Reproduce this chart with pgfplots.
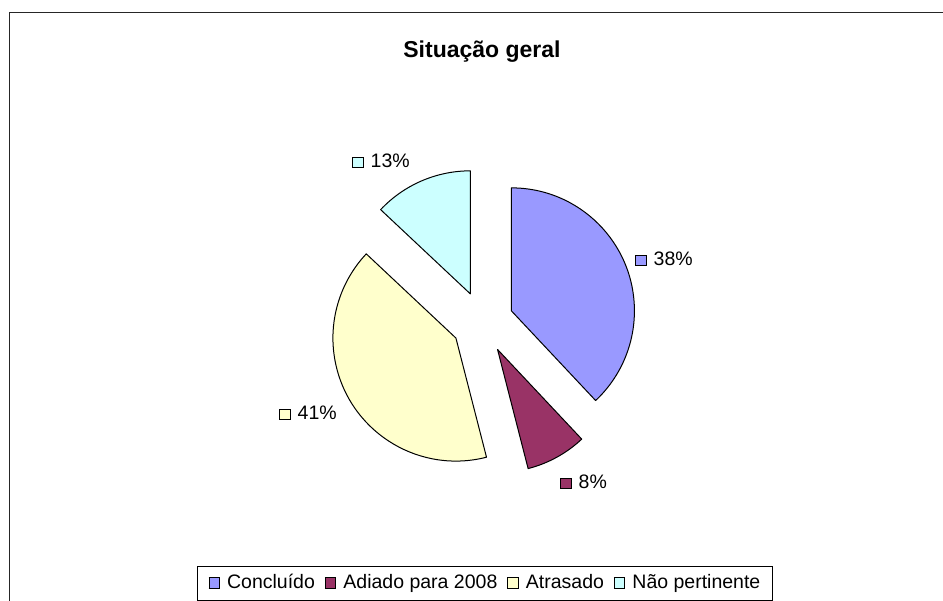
\documentclass[border=0pt]{standalone}
\usepackage{pgfplots}
\usepackage{pgfplotstable}
\pgfplotsset{compat=1.18}
\usepackage{fontspec}
\setmainfont{Liberation Sans}

\definecolor{cConc}{HTML}{9999FF}
\definecolor{cAdia}{HTML}{993366}
\definecolor{cAtra}{HTML}{FFFFCC}
\definecolor{cNaop}{HTML}{CCFFFF}

% pie geometry, in px of the 943x601 picture (1pt = 1px)
\def\cx{482.6}
\def\cy{278.7}
\def\rr{123}
\def\dd{31}

\newcommand\lblfont{\fontsize{19.5}{22}\selectfont}
\newcommand\legsq[1]{{\setlength\fboxsep{0pt}\setlength\fboxrule{1pt}%
  \raisebox{0.5pt}{\fcolorbox{black}{#1}{\rule{9.5pt}{0pt}\rule{0pt}{9.5pt}}}}}

% slice values (%) and label centres (px, y from the top)
\pgfplotstableread{
idx value colour lx ly
0 38 cConc 664 259
1 8 cAdia 583.5 482
2 41 cAtra 308 413
3 13 cNaop 381 161
}\piedata

\begin{document}
\begin{tikzpicture}
\useasboundingbox (0,0) rectangle (943pt,601pt);
\clip (0,0) rectangle (943pt,601pt);
\fill[white] (0,0) rectangle (943pt,601pt);

% angles: Excel starts at 12 o'clock and runs clockwise
\xdef\cum{0}
\pgfplotsforeachungrouped \i in {0,...,3}{%
  \pgfplotstablegetelem{\i}{value}\of\piedata \let\pval\pgfplotsretval
  \pgfplotstablegetelem{\i}{colour}\of\piedata \let\pcol\pgfplotsretval
  \pgfplotstablegetelem{\i}{lx}\of\piedata \let\plx\pgfplotsretval
  \pgfplotstablegetelem{\i}{ly}\of\piedata \let\ply\pgfplotsretval
  \pgfmathsetmacro\angA{90-\cum}
  \pgfmathsetmacro\angB{90-\cum-3.6*\pval}
  \pgfmathsetmacro\angM{(\angA+\angB)/2}
  \pgfmathsetmacro\vx{\cx+\dd*cos(\angM)}
  \pgfmathsetmacro\vy{\cy+\dd*sin(\angM)}
  \pgfmathsetmacro\lyy{601-\ply}
  \expandafter\xdef\csname sa\i\endcsname{\angA}
  \expandafter\xdef\csname sb\i\endcsname{\angB}
  \expandafter\xdef\csname vx\i\endcsname{\vx}
  \expandafter\xdef\csname vy\i\endcsname{\vy}
  \expandafter\xdef\csname lx\i\endcsname{\plx}
  \expandafter\xdef\csname ly\i\endcsname{\lyy}
  \expandafter\xdef\csname pc\i\endcsname{\pval}
  \colorlet{slice\i}{\pcol}
  \pgfmathsetmacro\newcum{\cum+3.6*\pval}
  \xdef\cum{\newcum}
}

\begin{axis}[
  at={(0pt,0pt)}, anchor=origin,
  width=943pt, height=601pt, scale only axis,
  xmin=0, xmax=943, ymin=0, ymax=601,
  hide axis, clip=false,
]
\pgfplotsinvokeforeach{0,...,3}{
  \filldraw[fill=slice#1, draw=black, line width=1pt, line join=round]
    (axis cs:\csname vx#1\endcsname,\csname vy#1\endcsname)
    -- ++({\csname sa#1\endcsname}:\rr pt)
    arc[start angle=\csname sa#1\endcsname, end angle=\csname sb#1\endcsname, radius=\rr pt]
    -- cycle;
  \node[font=\lblfont, inner sep=0pt] at (axis cs:\csname lx#1\endcsname,\csname ly#1\endcsname)
    {\legsq{slice#1}\hspace{7pt}\csname pc#1\endcsname\%};
}
% title
\node[font=\fontsize{23}{26}\selectfont\bfseries, anchor=base] at (axis cs:482,543) {Situação geral};
% legend
\node[draw=black, line width=0.9pt, minimum width=575pt, minimum height=34pt, inner sep=0pt,
      font=\lblfont] at (axis cs:484.5,18)
  {\legsq{cConc}\hspace{7pt}Concluído\hspace{10pt}\legsq{cAdia}\hspace{7pt}Adiado para 2008\hspace{10pt}%
   \legsq{cAtra}\hspace{7pt}Atrasado\hspace{10pt}\legsq{cNaop}\hspace{7pt}Não pertinente};
\end{axis}

% chart area frame (cut off at the right and bottom)
\draw[line width=1.2pt, black!85] (9.5pt,-10pt) -- (9.5pt,588.5pt) -- (960pt,588.5pt);
\end{tikzpicture}
\end{document}
